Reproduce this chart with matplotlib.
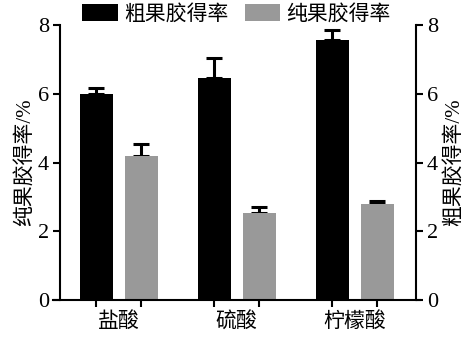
import matplotlib
matplotlib.use("Agg")
import matplotlib.pyplot as plt
import numpy as np

plt.rcParams['font.family'] = ['Liberation Serif', 'Noto Sans CJK SC']

categories = ['盐酸', '硫酸', '柠檬酸']
crude = [6.0, 6.45, 7.56]
crude_err = [0.17, 0.6, 0.29]
pure = [4.19, 2.53, 2.79]
pure_err = [0.36, 0.17, 0.1]
series_names = ['粗果胶得率', '纯果胶得率']
left_label = '纯果胶得率/%'
right_label = '粗果胶得率/%'
yticks = [0, 2, 4, 6, 8]

fig = plt.figure(figsize=(4.72, 3.41), dpi=100)
ax = fig.add_axes([53/472, 1-300/341, 367/472, 275/341])

x = np.arange(len(categories))
off = 0.19
w = 0.28
black = '#000000'
gray = '#999999'
b1 = ax.bar(x - off, crude, w, color=black, label=series_names[0], zorder=2)
b2 = ax.bar(x + off, pure, w, color=gray, label=series_names[1], zorder=2)
ax.errorbar(x - off, crude, yerr=[np.zeros(3), crude_err], fmt='none', ecolor=black,
            elinewidth=2.2, capsize=5.5, capthick=2.2, zorder=1)
ax.errorbar(x + off, pure, yerr=[np.zeros(3), pure_err], fmt='none', ecolor=black,
            elinewidth=2.2, capsize=5.5, capthick=2.2, zorder=1)

ax.set_xlim(-0.557, 2.553)
ax.set_ylim(0, 8)
ax.spines['top'].set_visible(False)
ax.spines['right'].set_visible(False)
ax.spines['left'].set_position(('outward', -5.0))
for s in ['left', 'bottom']:
    ax.spines[s].set_linewidth(1.5)

ax.set_xticks(np.concatenate([x - off, x + off]))
ax.set_xticklabels([])
ax.set_xticks(x, minor=True)
ax.set_xticklabels(categories, minor=True, fontsize=15)
ax.tick_params(axis='x', which='major', direction='out', length=5, width=1.5)
ax.tick_params(axis='x', which='minor', length=0, pad=9)
ax.tick_params(axis='y', direction='out', length=5, width=1.5, pad=3)
ax.set_ylabel(left_label, fontsize=15, labelpad=2)

ax2 = ax.twinx()
ax2.set_ylim(0, 8)
for s in ['top', 'left', 'bottom']:
    ax2.spines[s].set_visible(False)
ax2.spines['right'].set_position(('outward', -2.9))
ax2.spines['right'].set_linewidth(1.5)
ax2.tick_params(axis='y', direction='out', length=5, width=1.5, pad=3)
ax2.set_ylabel(right_label, fontsize=15, rotation=90, labelpad=4)

for a in (ax, ax2):
    a.set_yticks(yticks)
    a.set_yticklabels([str(t) for t in yticks], family='Liberation Serif', size=16)

leg = ax.legend(handles=[b1, b2], loc='lower center', bbox_to_anchor=(0.5, 1.0), ncol=2,
                frameon=False, fontsize=15, handlelength=1.7, handleheight=0.9,
                handletextpad=0.3, columnspacing=0.8, borderaxespad=0.0, borderpad=0.0)

fig.savefig('out.png', dpi=100)
